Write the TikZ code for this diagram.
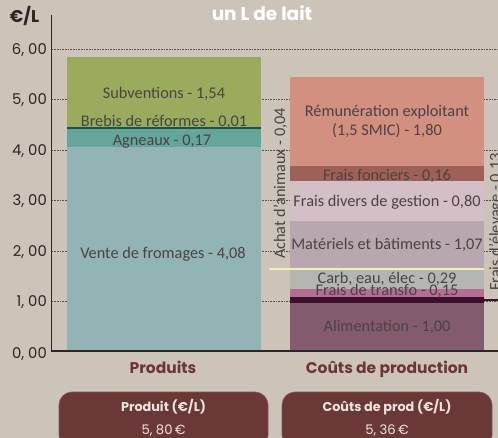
\documentclass[tikz,border=0pt]{standalone}
\usepackage{fontspec}
\setmainfont{Carlito}
\newfontfamily\pop{Poppins}
\definecolor{bg}{HTML}{CDC4B9}
\definecolor{subv}{HTML}{9BAB5D}
\definecolor{agn}{HTML}{64A69B}
\definecolor{breb}{HTML}{1F5249}
\definecolor{vente}{HTML}{93B4B5}
\definecolor{remu}{HTML}{D38F80}
\definecolor{fonc}{HTML}{9E6158}
\definecolor{divers}{HTML}{D4BFC7}
\definecolor{mat}{HTML}{B8A7AE}
\definecolor{carb}{HTML}{B4B7B1}
\definecolor{transfo}{HTML}{B56D95}
\definecolor{elev}{HTML}{3C0F2B}
\definecolor{alim}{HTML}{835B6E}
\definecolor{achat}{HTML}{F3EEB6}
\definecolor{lblc}{HTML}{4A4343}
\definecolor{axisc}{HTML}{2D2525}
\definecolor{head}{HTML}{6E3535}
\definecolor{boxc}{HTML}{6B3838}
\definecolor{boxt}{HTML}{F0E4DE}
\begin{document}
\begin{tikzpicture}[x=1pt,y=-1pt,
  lbl/.style={font=\fontsize{16.3}{16.3}\selectfont, text=lblc, inner sep=0pt, anchor=base},
  ylab/.style={font=\pop\fontsize{14.8}{14.8}\selectfont, text=axisc, inner sep=0pt, anchor=base east},
  headlbl/.style={font=\pop\bfseries\fontsize{15.5}{15.5}\selectfont, text=head, inner sep=0pt, anchor=base},
  boxlbl/.style={font=\pop\bfseries\fontsize{12.8}{12.8}\selectfont, text=boxt, inner sep=0pt, anchor=base},
  boxval/.style={font=\pop\fontsize{13.2}{13.2}\selectfont, text=boxt, inner sep=0pt, anchor=base},
  grid/.style={draw=axisc!80, line width=0.6pt, dash pattern=on 0.8pt off 0.8pt},
  axisline/.style={draw=axisc, line width=1.3pt},
  sumbox/.style={fill=boxc, draw=boxc!85!white, line width=0.6pt, rounded corners=13pt}]
\useasboundingbox (0,0) rectangle (498,438);
\fill[bg] (0,0) rectangle (498,438);
% title
\node[font=\pop\bfseries\fontsize{18.5}{18.5}\selectfont, text=white, inner sep=0pt, anchor=base] (title) at (262,20.5) {un L de lait};
% gridlines
\foreach \yy in {49,99.5,150,200.5,251,301} {\draw[grid] (52,\yy) -- (498,\yy);}
% left bar
\fill[vente] (67,147) rectangle (261,351);
\fill[agn] (67,129.5) rectangle (261,147);
\fill[breb] (67,127.5) rectangle (261,129.5);
\fill[subv] (67,57) rectangle (261,127.5);
% right bar
\fill[remu] (290,77) rectangle (484,166);
\fill[fonc] (290,166) rectangle (484,180.7);
\fill[divers] (290,180.7) rectangle (484,220.7);
\fill[mat] (290,220.7) rectangle (484,268);
\fill[achat] (269,268) rectangle (484,270.2);
\fill[carb] (290,270.2) rectangle (484,289);
\fill[transfo] (290,289) rectangle (484,297);
\fill[elev] (290,297) rectangle (484,302.7);
\fill[elev] (484,298.8) rectangle (498,301);
\fill[alim] (290,302.7) rectangle (484,351);
% axes
\draw[axisline] (51.5,15) -- (51.5,351) -- (498,351);
\node[font=\pop\bfseries\fontsize{17}{17}\selectfont, text=axisc, inner sep=0pt, anchor=base] (unit) at (24.5,23) {€/L};
\node[ylab] (y6) at (47,54.5) {6, 00};
\node[ylab] (y5) at (47,105) {5, 00};
\node[ylab] (y4) at (47,155.5) {4, 00};
\node[ylab] (y3) at (47,206) {3, 00};
\node[ylab] (y2) at (47,256.5) {2, 00};
\node[ylab] (y1) at (47,307) {1, 00};
\node[ylab] (y0) at (47,358) {0, 00};
% left labels
\node[lbl] (subvl) at (164,99) {Subventions - 1,54};
\node[lbl] (brebl) at (164,126.7) {Brebis de réformes - 0,01};
\node[lbl] (agnl) at (162,146) {Agneaux - 0,17};
\node[lbl] (ventel) at (163,258.3) {Vente de fromages - 4,08};
% right labels
\node[lbl] (remul1) at (387,117) {Rémunération exploitant};
\node[lbl] (remul2) at (387,136) {(1,5 SMIC) - 1,80};
\node[lbl] (foncl) at (387,180.7) {Frais fonciers - 0,16};
\node[lbl] (diversl) at (387,207) {Frais divers de gestion - 0,80};
\node[lbl] (matl) at (387,250) {Matériels et bâtiments - 1,07};
\node[lbl] (carbl) at (387,283.3) {Carb, eau, élec - 0,29};
\node[lbl] (transfol) at (387,296) {Frais de transfo - 0,15};
\node[lbl] (aliml) at (387,331.7) {Alimentation - 1,00};
\node[lbl, rotate=90] (achatl) at (285,183.5) {Achat d'animaux - 0,04};
\node[lbl, rotate=90] (elevl) at (500.5,222) {Frais d'élevage - 0,13};
% headings
\node[headlbl] (prod) at (163,373) {Produits};
\node[headlbl] (couts) at (387,373) {Coûts de production};
% summary boxes
\draw[sumbox] (59,392) rectangle (268,448);
\draw[sumbox] (282,392) rectangle (492,448);
\node[boxlbl] (b1t) at (163.5,411.5) {Produit (€/L)};
\node[boxval] (b1v) at (163.5,434) {5, 80\,€};
\node[boxlbl] (b2t) at (387,411.5) {Coûts de prod (€/L)};
\node[boxval] (b2v) at (387,434) {5, 36\,€};
\end{tikzpicture}
\end{document}
